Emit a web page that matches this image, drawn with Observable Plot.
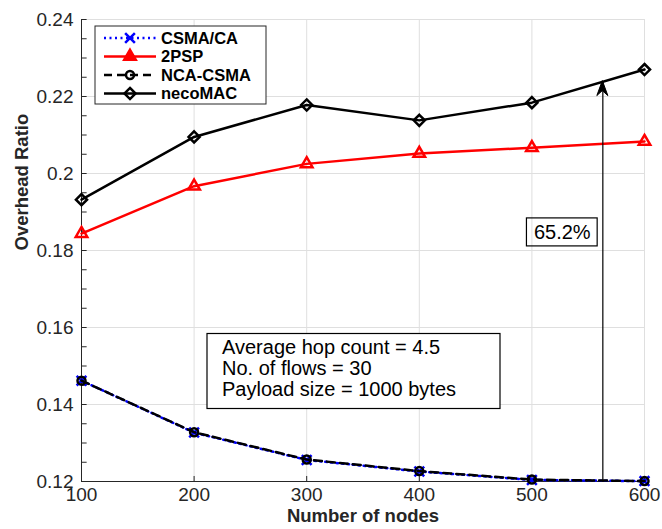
<!DOCTYPE html>
<html><head><meta charset="utf-8">
<script src="https://cdn.jsdelivr.net/npm/d3@7"></script>
<script src="https://cdn.jsdelivr.net/npm/@observablehq/plot@0.6"></script>
<style>
body{margin:0;background:#fff;}
svg{font-family:"Liberation Sans",Arial,Helvetica,sans-serif;}
</style></head><body><div id="chart"></div>
<script>
// ---- data ----
const nodes = [100, 200, 300, 400, 500, 600];
const csmaCA  = [0.1462, 0.1327, 0.1256, 0.1226, 0.1204, 0.1201];
const twoPSP  = [0.1844, 0.1967, 0.2025, 0.2052, 0.2067, 0.2083];
const ncaCSMA = [0.1462, 0.1328, 0.1257, 0.1227, 0.1205, 0.1201];
const necoMAC = [0.1932, 0.2095, 0.2178, 0.2138, 0.2184, 0.2270];
const seriesNames = ["CSMA/CA", "2PSP", "NCA-CSMA", "necoMAC"];
const xTicks = [100, 200, 300, 400, 500, 600];
const yTicks = [0.12, 0.14, 0.16, 0.18, 0.2, 0.22, 0.24];
const yTickLabels = ["0.12", "0.14", "0.16", "0.18", "0.2", "0.22", "0.24"];
const yMinorTicks = [0.12,0.125,0.13,0.135,0.14,0.145,0.15,0.155,0.16,0.165,0.17,0.175,0.18,0.185,0.19,0.195,0.2,0.205,0.21,0.215,0.22,0.225,0.23,0.235,0.24];
const xLabel = "Number of nodes";
const yLabel = "Overhead Ratio";
const infoLines = ["Average hop count = 4.5", "No. of flows = 30", "Payload size = 1000 bytes"];
const gainText = "65.2%";
const arrowNode = 563;          // x position of the arrow (nodes)
const arrowFrom = 0.12;         // arrow tail value
const arrowTo = 0.2240;         // arrow head value
const gainAnchor = {x: 527, y: 0.1847};

// ---- styles ----
const styles = {
  "CSMA/CA":  {stroke: "#0000ff", dash: "2,3.5", symbol: "times",    d3sym: d3.symbolTimes,    r: 4.5},
  "2PSP":     {stroke: "#ff0000", dash: null,    symbol: "triangle2", d3sym: d3.symbolTriangle2, r: 5.5},
  "NCA-CSMA": {stroke: "#000000", dash: "8,5",   symbol: "circle",   d3sym: d3.symbolCircle,   r: 4},
  "necoMAC":  {stroke: "#000000", dash: null,    symbol: "diamond2", d3sym: d3.symbolDiamond2, r: 5}
};
const valuesBySeries = {"CSMA/CA": csmaCA, "2PSP": twoPSP, "NCA-CSMA": ncaCSMA, "necoMAC": necoMAC};
const rows = seriesNames.flatMap(s => nodes.map((n, i) => ({series: s, nodes: n, value: valuesBySeries[s][i]})));

const axisColor = "#262626";
const gridColor = "#dfdfdf";
const font = '"Liberation Sans",Arial,Helvetica,sans-serif';
const lw = 2.5;

const seriesMarks = seriesNames.flatMap(s => {
  const st = styles[s];
  const data = rows.filter(d => d.series === s);
  return [
    Plot.line(data, {x: "nodes", y: "value", stroke: st.stroke, strokeWidth: lw, strokeDasharray: st.dash}),
    Plot.dot(data, {x: "nodes", y: "value", symbol: () => st.symbol, stroke: st.stroke, fill: "none", strokeWidth: lw, r: st.r})
  ];
});

const plot = Plot.plot({
  width: 662, height: 529,
  marginLeft: 81, marginRight: 18, marginTop: 19, marginBottom: 48,
  style: {fontFamily: font, background: "#fff"},
  x: {domain: [100, 600]},
  y: {domain: [0.12, 0.24]},
  symbol: {type: "identity"},
  marks: [
    Plot.gridX(xTicks, {stroke: gridColor, strokeOpacity: 1}),
    Plot.gridY(yTicks, {stroke: gridColor, strokeOpacity: 1}),
    Plot.ruleY(yMinorTicks, {y: d => d, x1: 100, x2: 105, stroke: axisColor}),
    Plot.ruleX(xTicks, {x: d => d, y1: 0.12, y2: 0.1213, stroke: axisColor}),
    Plot.ruleX([100], {stroke: axisColor}),
    Plot.ruleY([0.12], {stroke: axisColor}),
    Plot.axisX({ticks: xTicks, tickSize: 0, tickPadding: 6, fontSize: 19, label: null, color: axisColor}),
    Plot.axisY({ticks: yTicks, tickSize: 0, tickPadding: 8, fontSize: 19, label: null, color: axisColor,
                tickFormat: d => yTickLabels[yTicks.indexOf(d)]}),
    Plot.text([xLabel], {frameAnchor: "bottom", dy: 40, fontSize: 18.5, fontWeight: "bold", fill: axisColor}),
    Plot.text([yLabel], {frameAnchor: "left", dx: -59, rotate: -90, fontSize: 18.5, fontWeight: "bold", fill: axisColor}),
    ...seriesMarks,
    Plot.link([{x: arrowNode, y1: arrowFrom, y2: arrowTo}], {x1: "x", x2: "x", y1: "y1", y2: "y2", stroke: "#000", strokeWidth: 1.2}),
    Plot.text([gainText], {x: () => gainAnchor.x, y: () => gainAnchor.y, fontSize: 20, fill: "#000"})
  ]
});

document.getElementById("chart").appendChild(plot);
const svg = d3.select(plot);
const xs = plot.scale("x"), ys = plot.scale("y");

// arrow head
const tx = xs.apply(arrowNode), ty = ys.apply(arrowTo);
svg.append("path")
  .attr("d", `M${tx},${ty} L${tx - 5.5},${ty + 15} L${tx},${ty + 10} L${tx + 5.5},${ty + 15} Z`)
  .attr("fill", "#000").attr("stroke", "#000").attr("stroke-width", 1);

// box around gain label
const gx = xs.apply(gainAnchor.x), gy = ys.apply(gainAnchor.y);
const gainNode = svg.selectAll("text").filter(function() { return this.textContent === gainText; }).node();
const gw = gainNode ? gainNode.getComputedTextLength() : 58;
svg.append("rect").attr("x", gx - gw / 2 - 7).attr("y", gy - 14).attr("width", gw + 14).attr("height", 28)
  .attr("fill", "none").attr("stroke", "#000").attr("stroke-width", 1.2);

// info box
const info = svg.append("g").attr("text-anchor", "start");
info.append("rect").attr("x", 207).attr("y", 333.5).attr("width", 293).attr("height", 75)
  .attr("fill", "#fff").attr("stroke", "#000").attr("stroke-width", 1.2);
info.selectAll("text").data(infoLines).join("text")
  .attr("x", 222).attr("y", (d, i) => 354 + i * 21)
  .attr("font-size", 20).attr("fill", "#000").attr("font-family", font)
  .text(d => d);

// legend
const lg = svg.append("g").attr("text-anchor", "start");
lg.append("rect").attr("x", 95).attr("y", 26).attr("width", 171).attr("height", 78)
  .attr("fill", "#fff").attr("stroke", axisColor).attr("stroke-width", 1);
seriesNames.forEach((s, i) => {
  const st = styles[s];
  const y = 38 + i * 18.5;
  lg.append("line").attr("x1", 104).attr("x2", 156).attr("y1", y).attr("y2", y)
    .attr("stroke", st.stroke).attr("stroke-width", lw).attr("stroke-dasharray", st.dash);
  lg.append("path").attr("transform", `translate(130,${y})`)
    .attr("d", d3.symbol(st.d3sym, Math.PI * st.r * st.r)())
    .attr("fill", s === "2PSP" ? st.stroke : "none").attr("stroke", st.stroke).attr("stroke-width", lw);
  lg.append("text").attr("x", 161).attr("y", y).attr("dy", "0.36em")
    .attr("font-size", 16.5).attr("font-weight", "bold").attr("fill", "#000").attr("font-family", font)
    .text(s);
});
</script></body></html>
